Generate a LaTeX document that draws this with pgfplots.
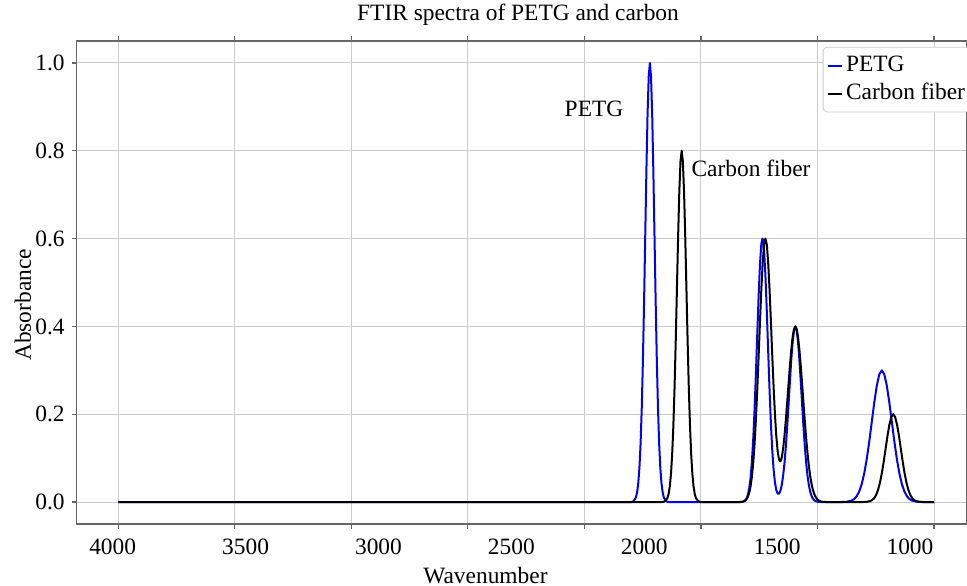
\documentclass[border=0pt]{standalone}
\usepackage{fontspec}
\setmainfont{Liberation Serif}
\usepackage{pgfplots}
\pgfplotsset{compat=1.18}
\newcommand\ff{\fontsize{11.7}{14}\selectfont}
\begin{document}
\begin{tikzpicture}
\begin{axis}[
  scale only axis, width=444.9pt, height=241.5pt,
  x dir=reverse, xmin=880.5, xmax=4153, ymin=-0.05, ymax=1.05,
  axis line style={black!60, line width=0.7pt},
  tick align=outside, major tick length=2.5pt,
  tick style={black!60, line width=0.6pt},
  grid=major, grid style={black!20, line width=0.5pt},
  xtick={1000,1428.571,1857.143,2285.714,2714.286,3142.857,3571.429,4000},
  xticklabels={,,,,,,,},
  extra x ticks={4020.6,3531.9,3043.2,2554.5,2065.8,1577.1,1088.4},
  extra x tick labels={4000,3500,3000,2500,2000,1500,1000},
  extra x tick style={grid=none, major tick length=0pt, xticklabel style={yshift=-4pt}},
  ytick={0,0.2,0.4,0.6,0.8,1.0},
  yticklabel style={/pgf/number format/.cd, fixed, fixed zerofill, precision=1},
  /pgf/number format/assume math mode=true,
  tick label style={font=\ff},
  label style={font=\ff},
  title style={font=\ff, at={(0.496,1.01656)}, anchor=base},
  title={FTIR spectra of PETG and carbon},
  xlabel={Wavenumber},
  xlabel style={at={(0.4594,-0.1225)}, anchor=base},
  ylabel={Absorbance},
  ylabel style={at={(-0.05136,0.4534)}, anchor=base},
  legend style={at={(0.8384,0.988)}, anchor=north west, draw=black!20, fill=white,
    rounded corners=2pt, font=\ff, inner xsep=2pt, inner ysep=2.2pt, row sep=0pt,
    column sep=1pt, nodes={inner sep=0.5pt, text height=9.3pt, text depth=3.7pt}},
  legend cell align=left,
  legend image code/.code={\draw[#1] (0pt,0pt) -- (7pt,0pt);},
]
\addplot[blue, line width=1pt, line join=round] coordinates {
(4000,0) (2113,0) (2104.5,0.002) (2096,0.011) (2091.75,0.023) (2087.5,0.044) (2083.25,0.080)
(2079,0.135) (2074.75,0.216) (2070.5,0.325) (2066.25,0.458) (2062,0.607) (2057.75,0.755)
(2053.5,0.883) (2049.25,0.969) (2045,1.0) (2040.75,0.969) (2036.5,0.883) (2032.25,0.755)
(2028,0.607) (2023.75,0.458) (2019.5,0.325) (2015.25,0.216) (2011,0.135) (2006.75,0.080)
(2002.5,0.044) (1998.25,0.023) (1994,0.011) (1985.5,0.002) (1977,0)
(1710,0) (1705,0.0006) (1700,0.0016) (1695,0.0036) (1690,0.0077) (1685,0.0157) (1680,0.0298)
(1675,0.0533) (1670,0.0896) (1665,0.1414) (1660,0.2097) (1655,0.2921) (1650,0.3821)
(1645,0.4696) (1640,0.5423) (1635,0.5881) (1631,0.6) (1630,0.5993) (1625,0.5736)
(1620,0.5158) (1615,0.4357) (1610,0.3458) (1605,0.2577) (1600,0.1807) (1595,0.1192)
(1590,0.0743) (1585,0.0446) (1580,0.0271) (1575,0.0193) (1570,0.0190) (1565,0.0255)
(1560,0.0387) (1555,0.0594) (1550,0.0884) (1545,0.1256) (1540,0.1708) (1535,0.2215)
(1530,0.2741) (1525,0.3234) (1520,0.3639) (1515,0.3907) (1510,0.4) (1505,0.3907)
(1500,0.3639) (1495,0.3234) (1490,0.2741) (1485,0.2215) (1480,0.1708) (1475,0.1256)
(1470,0.0882) (1465,0.0590) (1460,0.0376) (1455,0.0229) (1450,0.0133) (1445,0.0074)
(1440,0.0039) (1435,0.0020) (1430,0.0009) (1425,0.0004) (1420,0.0002) (1415,0)
(1340,0) (1321.5,0.0007) (1303,0.0033) (1293.75,0.0068) (1284.5,0.0132) (1275.25,0.0239)
(1266,0.0406) (1256.75,0.0649) (1247.5,0.0974) (1238.25,0.1373) (1229,0.1820) (1219.75,0.2264)
(1210.5,0.2648) (1201.25,0.2908) (1192,0.3) (1182.75,0.2908) (1173.5,0.2648) (1164.25,0.2264)
(1155,0.1820) (1145.75,0.1373) (1136.5,0.0974) (1127.25,0.0649) (1118,0.0406) (1108.75,0.0239)
(1099.5,0.0132) (1090.25,0.0068) (1081,0.0033) (1062.5,0.0007) (1044,0) (1000,0)
};
\addlegendentry{PETG}
\addplot[black, line width=1pt, line join=round] coordinates {
(4000,0) (1998,0) (1989.25,0.0018) (1980.5,0.0089) (1976.125,0.0182) (1971.75,0.0351)
(1967.375,0.0637) (1963,0.1083) (1958.625,0.1730) (1954.25,0.2598) (1949.875,0.3662)
(1945.5,0.4852) (1941.125,0.6038) (1936.75,0.7060) (1932.375,0.7754) (1928,0.8)
(1923.625,0.7754) (1919.25,0.7060) (1914.875,0.6038) (1910.5,0.4852) (1906.125,0.3662)
(1901.75,0.2598) (1897.375,0.1730) (1893,0.1083) (1888.625,0.0637) (1884.25,0.0351)
(1879.875,0.0182) (1875.5,0.0089) (1866.75,0.0018) (1858,0)
(1715,0) (1710,0.0003) (1705,0.0006) (1700,0.0014) (1695,0.0029) (1690,0.0059) (1685,0.0111)
(1680,0.0200) (1675,0.0344) (1670,0.0565) (1665,0.0885) (1660,0.1322) (1655,0.1885)
(1650,0.2563) (1645,0.3323) (1640,0.4111) (1635,0.4850) (1630,0.5459) (1625,0.5860)
(1620,0.6) (1615,0.5864) (1610,0.5466) (1605,0.4863) (1600,0.4134) (1595,0.3363)
(1590,0.2631) (1585,0.1996) (1580,0.1498) (1575,0.1155) (1570,0.0968) (1565,0.0925)
(1560,0.1012) (1555,0.1211) (1550,0.1501) (1545,0.1860) (1540,0.2267) (1535,0.2691)
(1530,0.3102) (1525,0.3466) (1520,0.3753) (1515,0.3937) (1510,0.4) (1505,0.3937)
(1500,0.3753) (1495,0.3465) (1490,0.3099) (1485,0.2685) (1480,0.2253) (1475,0.1831)
(1470,0.1442) (1465,0.1100) (1460,0.0812) (1455,0.0581) (1450,0.0403) (1445,0.0270)
(1440,0.0176) (1435,0.0111) (1430,0.0068) (1425,0.0040) (1420,0.0023) (1415,0.0013)
(1410,0.0007) (1405,0.0004) (1400,0.0002) (1395,0)
(1262,0) (1248,0.0004) (1234,0.0022) (1227,0.0046) (1220,0.0088) (1213,0.0159) (1206,0.0271)
(1199,0.0433) (1192,0.0649) (1185,0.0916) (1178,0.1213) (1171,0.1510) (1164,0.1765)
(1157,0.1938) (1150,0.2) (1143,0.1938) (1136,0.1765) (1129,0.1510) (1122,0.1213)
(1115,0.0916) (1108,0.0649) (1101,0.0433) (1094,0.0271) (1087,0.0159) (1080,0.0088)
(1073,0.0046) (1066,0.0022) (1052,0.0004) (1038,0) (1000,0)
};
\addlegendentry{Carbon fiber}
\node[font=\ff] at (axis cs:2250.5,0.896) {PETG};
\node[font=\ff] at (axis cs:1673,0.760) {Carbon fiber};
\end{axis}
\pgfresetboundingbox
\useasboundingbox ([shift={(-38.35pt,-31pt)}]current axis.south west) rectangle ([shift={(0.25pt,20.5pt)}]current axis.north east);
\end{tikzpicture}
\end{document}
